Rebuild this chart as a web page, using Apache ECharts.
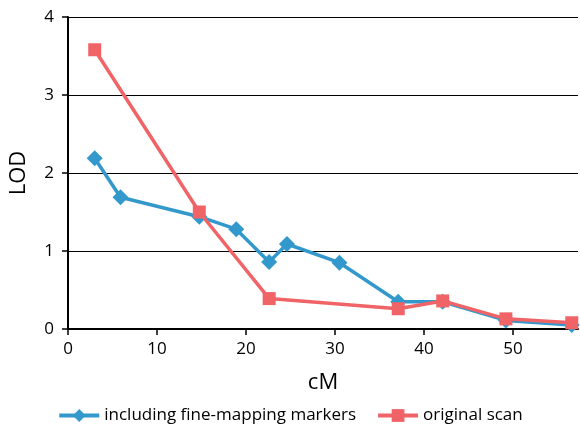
<!DOCTYPE html>
<html><head><meta charset="utf-8">
<script src="https://cdn.jsdelivr.net/npm/echarts@6/dist/echarts.min.js"></script>
<style>html,body{margin:0;padding:0;background:#fff}#c{width:580px;height:429px}</style>
</head><body><div id="c"></div>
<script>
const fineX = [3.0, 5.9, 14.75, 18.9, 22.6, 24.6, 30.5, 37.1, 42.1, 49.2, 56.6];
const fineY = [2.19, 1.69, 1.44, 1.28, 0.86, 1.09, 0.85, 0.35, 0.35, 0.11, 0.05];
const origX = [3.0, 14.75, 22.6, 37.1, 42.1, 49.2, 56.6];
const origY = [3.58, 1.50, 0.39, 0.26, 0.36, 0.13, 0.08];
const xTicks = [0, 10, 20, 30, 40, 50];
const yTicks = [0, 1, 2, 3, 4];
const seriesNames = ['including fine-mapping markers', 'original scan'];

const font = 'Open Sans';
const chart = echarts.init(document.getElementById('c'));
chart.setOption({
  animation: false,
  textStyle: {fontFamily: font},
  grid: {left: 66, right: 2, top: 17, bottom: 100, containLabel: false},
  xAxis: {
    type: 'value', min: 0, max: 57.3, interval: 10,
    name: 'cM', nameLocation: 'middle', nameGap: 43,
    nameTextStyle: {fontSize: 22, color: '#000', fontFamily: font},
    axisLine: {show: true, lineStyle: {color: '#000', width: 2}},
    axisTick: {show: true, length: 6, lineStyle: {color: '#000', width: 1.5}, customValues: xTicks},
    axisLabel: {fontSize: 17, color: '#000', margin: 12, customValues: xTicks},
    splitLine: {show: false}
  },
  yAxis: {
    type: 'value', min: 0, max: 4, interval: 1,
    name: 'LOD', nameLocation: 'middle', nameGap: 38, nameRotate: 90,
    nameTextStyle: {fontSize: 22, color: '#000', fontFamily: font},
    axisLine: {show: true, onZero: false, lineStyle: {color: '#000', width: 2}},
    axisTick: {show: true, length: 6, lineStyle: {color: '#000', width: 1.5}},
    axisLabel: {fontSize: 17, color: '#000', margin: 14, customValues: yTicks},
    splitLine: {show: true, lineStyle: {color: '#000', width: 1}}
  },
  legend: {
    bottom: 0, left: 'center', itemWidth: 40, itemHeight: 16, itemGap: 20,
    textStyle: {fontSize: 17, color: '#000', fontFamily: font},
    lineStyle: {width: 4},
    data: seriesNames
  },
  series: [
    {
      name: seriesNames[0], type: 'line',
      data: fineX.map((x, i) => [x, fineY[i]]),
      symbol: 'diamond', symbolSize: 16,
      lineStyle: {color: '#3399cc', width: 3.5},
      itemStyle: {color: '#3399cc'}, z: 2
    },
    {
      name: seriesNames[1], type: 'line',
      data: origX.map((x, i) => [x, origY[i]]),
      symbol: 'rect', symbolSize: 13,
      lineStyle: {color: '#f06468', width: 3.5},
      itemStyle: {color: '#f06468'}, z: 3
    }
  ]
});
</script></body></html>
